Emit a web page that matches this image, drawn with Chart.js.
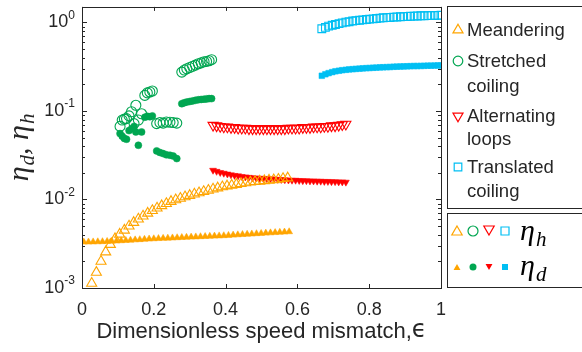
<!DOCTYPE html>
<html>
<head>
<meta charset="utf-8">
<script src="https://cdn.jsdelivr.net/npm/chart.js@4"></script>
<style>
  html, body { margin: 0; padding: 0; background: #fff; }
  canvas { display: block; }
</style>
</head>
<body>
<canvas id="chart" width="582" height="352"></canvas>
<script>
// Meandering
const meanderEpsH = [0.027, 0.040, 0.053, 0.066, 0.079, 0.092, 0.105, 0.118, 0.131, 0.144, 0.157, 0.170, 0.183, 0.196, 0.209, 0.222, 0.235, 0.248, 0.261, 0.274, 0.287, 0.300, 0.313, 0.326, 0.339, 0.352, 0.365, 0.378, 0.391, 0.404, 0.417, 0.430, 0.443, 0.456, 0.469, 0.482, 0.495, 0.508, 0.521, 0.534, 0.547, 0.560, 0.573];
const meanderH = [0.00113, 0.0015, 0.0020, 0.00255, 0.0031, 0.0036, 0.00405, 0.0045, 0.0050, 0.0055, 0.0060, 0.0065, 0.0070, 0.0075, 0.0080, 0.0085, 0.0090, 0.0095, 0.0099, 0.0103, 0.0107, 0.0111, 0.0115, 0.0119, 0.0123, 0.0127, 0.0131, 0.0135, 0.0139, 0.0142, 0.0145, 0.0148, 0.0151, 0.0154, 0.0157, 0.0159, 0.0161, 0.0163, 0.0165, 0.0167, 0.0169, 0.0172, 0.0175];
const meanderEpsD = [0.005, 0.018, 0.031, 0.044, 0.057, 0.070, 0.083, 0.096, 0.109, 0.122, 0.135, 0.148, 0.161, 0.174, 0.187, 0.200, 0.213, 0.226, 0.239, 0.252, 0.265, 0.278, 0.291, 0.304, 0.317, 0.330, 0.343, 0.356, 0.369, 0.382, 0.395, 0.408, 0.421, 0.434, 0.447, 0.460, 0.473, 0.486, 0.499, 0.512, 0.525, 0.538, 0.551, 0.564, 0.577];
const meanderD = [0.00330, 0.00331, 0.00332, 0.00333, 0.00334, 0.00336, 0.00338, 0.00340, 0.00342, 0.00345, 0.00347, 0.00350, 0.00352, 0.00355, 0.00358, 0.00360, 0.00362, 0.00364, 0.00366, 0.00368, 0.00370, 0.00372, 0.00374, 0.00376, 0.00378, 0.00380, 0.00382, 0.00384, 0.00386, 0.00388, 0.00390, 0.00393, 0.00396, 0.00399, 0.00402, 0.00405, 0.00408, 0.00411, 0.00414, 0.00417, 0.00420, 0.00423, 0.00426, 0.00429, 0.00432];

// Stretched coiling
const stretchEps = [0.106, 0.112, 0.118, 0.124, 0.131, 0.138, 0.145, 0.150, 0.157, 0.166, 0.175, 0.182, 0.189, 0.196, 0.208, 0.217, 0.226, 0.235, 0.245, 0.254, 0.264, 0.278, 0.285, 0.292, 0.300, 0.308, 0.316, 0.324, 0.332, 0.340, 0.347, 0.354, 0.361];
const stretchH = [0.067, 0.079, 0.081, 0.082, 0.088, 0.098, 0.072, 0.116, 0.079, 0.093, 0.150, 0.160, 0.164, 0.168, 0.072, 0.074, 0.073, 0.075, 0.0746, 0.074, 0.073, 0.275, 0.290, 0.300, 0.310, 0.320, 0.330, 0.342, 0.350, 0.360, 0.363, 0.370, 0.380];
const stretchD = [0.0556, 0.052, 0.049, 0.048, 0.060, 0.063, 0.067, 0.058, 0.041, 0.058, 0.085, 0.087, 0.086, 0.088, 0.0354, 0.034, 0.033, 0.032, 0.0316, 0.031, 0.029, 0.121, 0.124, 0.126, 0.128, 0.130, 0.132, 0.134, 0.135, 0.136, 0.137, 0.138, 0.138];

// Alternating loops
const loopsEps = [0.365, 0.375, 0.385, 0.395, 0.405, 0.415, 0.425, 0.435, 0.445, 0.455, 0.465, 0.475, 0.485, 0.495, 0.505, 0.515, 0.525, 0.535, 0.545, 0.555, 0.565, 0.575, 0.585, 0.595, 0.605, 0.615, 0.625, 0.635, 0.645, 0.655, 0.665, 0.675, 0.685, 0.695, 0.705, 0.715, 0.725, 0.735];
const loopsH = [0.069, 0.068, 0.067, 0.066, 0.066, 0.065, 0.065, 0.064, 0.064, 0.064, 0.063, 0.063, 0.063, 0.063, 0.063, 0.063, 0.063, 0.063, 0.063, 0.063, 0.063, 0.064, 0.064, 0.064, 0.064, 0.065, 0.065, 0.065, 0.066, 0.066, 0.066, 0.067, 0.067, 0.068, 0.068, 0.069, 0.070, 0.071];
const loopsD = [0.0214, 0.0208, 0.0202, 0.0198, 0.0194, 0.0190, 0.0187, 0.0185, 0.0182, 0.0180, 0.0178, 0.0176, 0.0175, 0.0174, 0.0173, 0.0172, 0.0171, 0.0170, 0.0169, 0.0168, 0.0167, 0.0166, 0.0165, 0.0165, 0.0164, 0.0163, 0.0163, 0.0162, 0.0162, 0.0161, 0.0161, 0.0160, 0.0160, 0.0159, 0.0159, 0.0158, 0.0158, 0.0157];

// Translated coiling
const transEps = [0.668, 0.678, 0.687, 0.697, 0.706, 0.716, 0.725, 0.735, 0.744, 0.754, 0.763, 0.773, 0.782, 0.792, 0.801, 0.811, 0.820, 0.830, 0.839, 0.849, 0.858, 0.868, 0.877, 0.887, 0.896, 0.906, 0.915, 0.925, 0.934, 0.944, 0.953, 0.963, 0.972, 0.982, 0.991, 1.0];
const transH = [0.85, 0.88, 0.91, 0.93, 0.95, 0.97, 0.99, 1.01, 1.02, 1.04, 1.05, 1.06, 1.07, 1.08, 1.09, 1.10, 1.11, 1.12, 1.13, 1.135, 1.14, 1.15, 1.155, 1.16, 1.165, 1.17, 1.175, 1.18, 1.185, 1.19, 1.19, 1.195, 1.20, 1.20, 1.205, 1.21];
const transD = [0.250, 0.260, 0.268, 0.275, 0.281, 0.285, 0.289, 0.292, 0.295, 0.297, 0.299, 0.301, 0.303, 0.305, 0.306, 0.308, 0.309, 0.311, 0.312, 0.313, 0.314, 0.316, 0.317, 0.318, 0.319, 0.320, 0.321, 0.322, 0.322, 0.323, 0.324, 0.325, 0.325, 0.326, 0.327, 0.327];

// Axis ticks and labels
const xTicks = [0, 0.2, 0.4, 0.6, 0.8, 1];
const xTickLabels = ["0", "0.2", "0.4", "0.6", "0.8", "1"];
const yTicks = [0.001, 0.01, 0.1, 1];
const yTickExps = ["-3", "-2", "-1", "0"];
const legendNames = [["Meandering"], ["Stretched", "coiling"], ["Alternating", "loops"], ["Translated", "coiling"]];

const orange = "#FFA500";
const green = "#00A651";
const red = "#FF0000";
const cyan = "#00BFF3";
const ink = "#262626";
const sans = '"Liberation Sans", Arial, sans-serif';
const serif = '"Liberation Serif", "DejaVu Serif", serif';

const toPts = (xs, ys) => xs.map((x, i) => ({ x: x, y: ys[i] }));

function openSet(xs, ys, color, style, r, rot) {
  return {
    data: toPts(xs, ys), pointStyle: style, pointRadius: r, pointRotation: rot || 0,
    backgroundColor: "rgba(0,0,0,0)", borderColor: color, pointBorderWidth: 1.1, showLine: false
  };
}
function filledSet(xs, ys, color, style, r, rot) {
  return {
    data: toPts(xs, ys), pointStyle: style, pointRadius: r, pointRotation: rot || 0,
    backgroundColor: color, borderColor: color, pointBorderWidth: 0.5, showLine: false
  };
}

// small marker for the legend boxes
function marker(ctx, style, x, y, r, color, filled) {
  ctx.save();
  ctx.beginPath();
  if (style === "circle") {
    ctx.arc(x, y, r, 0, Math.PI * 2);
  } else if (style === "rect") {
    ctx.rect(x - r, y - r, 2 * r, 2 * r);
  } else {
    const s = style === "down" ? -1 : 1;
    ctx.moveTo(x, y - s * r);
    ctx.lineTo(x + r * 0.866, y + s * r * 0.5);
    ctx.lineTo(x - r * 0.866, y + s * r * 0.5);
    ctx.closePath();
  }
  if (filled) { ctx.fillStyle = color; ctx.fill(); }
  else { ctx.strokeStyle = color; ctx.lineWidth = 1.2; ctx.stroke(); }
  ctx.restore();
}

// draws eta with a subscript, returns width
function eta(ctx, x, y, sub, size, measureOnly) {
  ctx.font = "italic " + size + "px " + serif;
  const w1 = ctx.measureText("\u03B7").width;
  if (!measureOnly) ctx.fillText("\u03B7", x, y);
  const subSize = Math.round(size * 0.7);
  ctx.font = "italic " + subSize + "px " + serif;
  const w2 = ctx.measureText(sub).width;
  if (!measureOnly) ctx.fillText(sub, x + w1 + 1, y + size * 0.2);
  return w1 + 1 + w2;
}

const decor = {
  id: "decor",
  afterDraw(chart) {
    const ctx = chart.ctx;
    const a = chart.chartArea;
    const xs = chart.scales.x, ys = chart.scales.y;
    const line = (x1, y1, x2, y2) => { ctx.beginPath(); ctx.moveTo(x1, y1); ctx.lineTo(x2, y2); ctx.stroke(); };
    ctx.save();
    ctx.strokeStyle = ink;
    ctx.lineWidth = 1;
    ctx.strokeRect(Math.round(a.left) + 0.5, Math.round(a.top) + 0.5, Math.round(a.right - a.left), Math.round(a.bottom - a.top));

    // x ticks, inward on bottom and top
    xTicks.forEach(v => {
      const px = Math.round(xs.getPixelForValue(v)) + 0.5;
      line(px, a.bottom, px, a.bottom - 4);
      line(px, a.top, px, a.top + 4);
    });
    // y ticks, majors and minors, on both sides
    yTicks.forEach(v => {
      const py = Math.round(ys.getPixelForValue(v)) + 0.5;
      line(a.left, py, a.left + 5, py);
      line(a.right, py, a.right - 5, py);
      if (v < 1) {
        for (let k = 2; k <= 9; k++) {
          const pm = Math.round(ys.getPixelForValue(v * k)) + 0.5;
          line(a.left, pm, a.left + 3, pm);
          line(a.right, pm, a.right - 3, pm);
        }
      }
    });

    // tick labels
    ctx.fillStyle = ink;
    ctx.textAlign = "center";
    ctx.textBaseline = "middle";
    ctx.font = "18px " + sans;
    xTicks.forEach((v, i) => ctx.fillText(xTickLabels[i], xs.getPixelForValue(v), a.bottom + 22));
    yTicks.forEach((v, i) => {
      const py = ys.getPixelForValue(v);
      ctx.font = "12px " + sans;
      const ew = ctx.measureText(yTickExps[i]).width;
      ctx.textAlign = "left";
      ctx.fillText(yTickExps[i], a.left - 7 - ew, py - 7);
      ctx.font = "18px " + sans;
      ctx.textAlign = "right";
      ctx.fillText("10", a.left - 7 - ew, py);
    });

    // x axis title
    ctx.textAlign = "left";
    ctx.font = "22px " + sans;
    const t1 = "Dimensionless speed mismatch,";
    const w1 = ctx.measureText(t1).width;
    ctx.font = '24px "DejaVu Sans", sans-serif';
    const w2 = ctx.measureText("\u03F5").width;
    const tx = (a.left + a.right) / 2 - (w1 + w2) / 2;
    ctx.font = "22px " + sans;
    ctx.fillText(t1, tx, a.bottom + 44);
    ctx.font = '24px "DejaVu Sans", sans-serif';
    ctx.fillText("\u03F5", tx + w1, a.bottom + 43);

    // y axis title, rotated
    ctx.save();
    ctx.translate(28, (a.top + a.bottom) / 2);
    ctx.rotate(-Math.PI / 2);
    ctx.textBaseline = "alphabetic";
    const size = 30;
    const wa = eta(ctx, 0, 0, "d", size, true);
    ctx.font = "italic " + size + "px " + serif;
    const wc = ctx.measureText(", ").width;
    const wb = eta(ctx, 0, 0, "h", size, true);
    let cx = -(wa + wc + wb) / 2;
    eta(ctx, cx, 0, "d", size);
    ctx.font = "italic " + size + "px " + serif;
    ctx.fillText(", ", cx + wa, 0);
    eta(ctx, cx + wa + wc, 0, "h", size);
    ctx.restore();

    // legend 1: regimes
    const lx = a.right + 6;
    ctx.strokeRect(lx + 0.5, 6.5, 200, 202);
    ctx.font = "18.5px " + sans;
    ctx.textBaseline = "middle";
    ctx.textAlign = "left";
    const regimeColors = [orange, green, red, cyan];
    const regimeStyles = ["up", "circle", "down", "rect"];
    const regimeRows = [[31], [62, 87], [117, 140], [168, 192]];
    legendNames.forEach((names, i) => {
      const rows = regimeRows[i];
      const r = regimeStyles[i] === "circle" ? 4.8 : regimeStyles[i] === "rect" ? 3.8 : 5.8;
      marker(ctx, regimeStyles[i], lx + 11, rows[0] - 1, r, regimeColors[i], false);
      names.forEach((n, j) => ctx.fillText(n, lx + 20, rows[j]));
    });

    // legend 2: eta_h open, eta_d filled
    ctx.strokeRect(lx + 0.5, 213.5, 200, 74);
    const mx = [lx + 10, lx + 26, lx + 42, lx + 58];
    regimeStyles.forEach((s, i) => {
      const rOpen = s === "circle" ? 5 : s === "rect" ? 4 : 6;
      const rFill = s === "circle" ? 3.5 : s === "rect" ? 3 : 4;
      marker(ctx, s, mx[i], s === "up" ? 232 : s === "down" ? 229 : 231, rOpen, regimeColors[i], false);
      marker(ctx, s, mx[i], s === "up" ? 268 : s === "down" ? 266 : 267, rFill, regimeColors[i], true);
    });
    ctx.fillStyle = "#000";
    ctx.textBaseline = "alphabetic";
    eta(ctx, lx + 73, 240, "h", 30);
    eta(ctx, lx + 73, 275, "d", 30);
    ctx.restore();
  }
};

new Chart(document.getElementById("chart").getContext("2d"), {
  type: "scatter",
  data: {
    datasets: [
      openSet(meanderEpsH, meanderH, orange, "triangle", 5.8),
      filledSet(meanderEpsD, meanderD, orange, "triangle", 4),
      openSet(stretchEps, stretchH, green, "circle", 5),
      filledSet(stretchEps, stretchD, green, "circle", 3.5),
      openSet(loopsEps, loopsH, red, "triangle", 5.8, 180),
      filledSet(loopsEps, loopsD, red, "triangle", 4, 180),
      openSet(transEps, transH, cyan, "rect", 5.5),
      filledSet(transEps, transD, cyan, "rect", 4)
    ]
  },
  options: {
    responsive: false,
    animation: false,
    layout: { padding: { left: 0, right: 141, top: 6, bottom: 0 } },
    plugins: { legend: { display: false }, tooltip: { enabled: false } },
    scales: {
      x: {
        type: "linear", min: 0, max: 1,
        ticks: { display: false }, grid: { display: false }, border: { display: false },
        afterFit: s => { s.height = 64; }
      },
      y: {
        type: "logarithmic", min: 0.001, max: 1.5,
        ticks: { display: false }, grid: { display: false }, border: { display: false },
        afterFit: s => { s.width = 82; }
      }
    }
  },
  plugins: [decor]
});
</script>
</body>
</html>
